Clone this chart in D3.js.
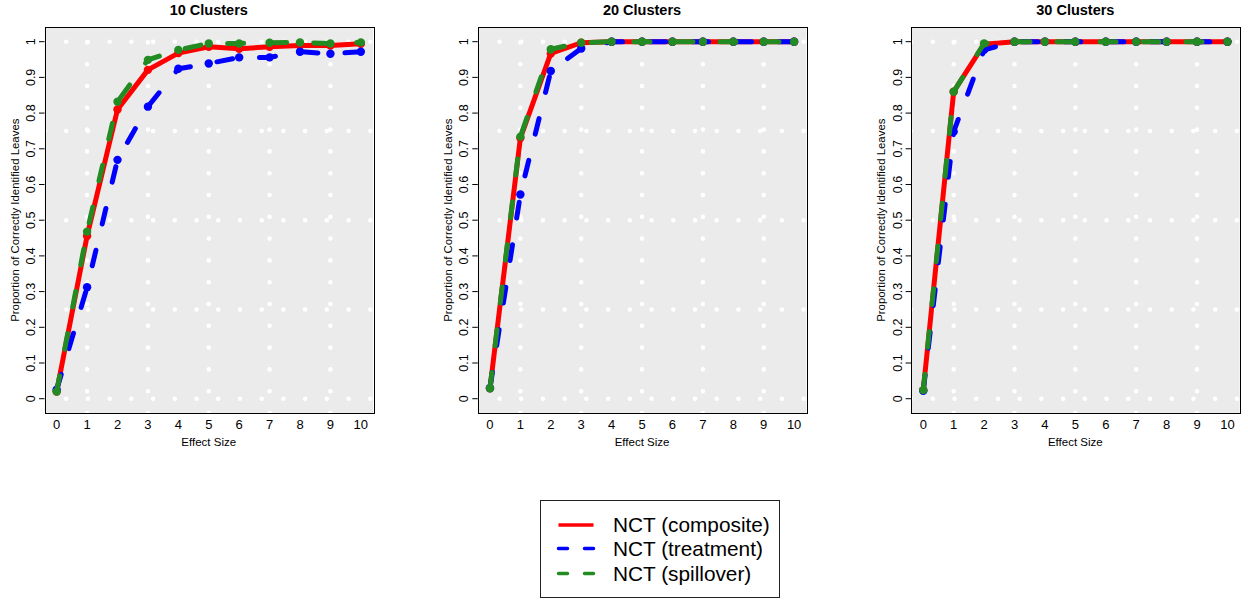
<!DOCTYPE html>
<html>
<head>
<meta charset="utf-8">
<script src="https://cdn.jsdelivr.net/npm/d3@7"></script>
<style>
  body { margin: 0; background: #fff; }
  svg { display: block; font-family: "Liberation Sans", Arial, sans-serif; }
</style>
</head>
<body>
<svg id="chart" width="1248" height="601"></svg>
<script>
// effect sizes on the x axis
const effectSizes = [0, 1, 2, 3, 4, 5, 6, 7, 8, 9, 10];
const panelTitles = ["10 Clusters", "20 Clusters", "30 Clusters"];
const seriesNames = ["NCT (composite)", "NCT (treatment)", "NCT (spillover)"];

// 10 clusters
const composite10 = [0.020, 0.456, 0.810, 0.921, 0.968, 0.986, 0.980, 0.986, 0.989, 0.989, 0.994];
const treatment10 = [0.025, 0.312, 0.669, 0.818, 0.924, 0.939, 0.956, 0.956, 0.972, 0.966, 0.972];
const spillover10 = [0.020, 0.468, 0.832, 0.949, 0.977, 0.995, 0.995, 0.997, 0.998, 0.995, 0.998];
// 20 clusters
const composite20 = [0.029, 0.730, 0.967, 0.997, 1, 1, 1, 1, 1, 1, 1];
const treatment20 = [0.030, 0.572, 0.918, 0.981, 1, 1, 1, 1, 1, 1, 1];
const spillover20 = [0.029, 0.734, 0.979, 0.997, 1, 1, 1, 1, 1, 1, 1];
// 30 clusters
const composite30 = [0.024, 0.860, 0.993, 1, 1, 1, 1, 1, 1, 1, 1];
const treatment30 = [0.022, 0.748, 0.977, 1, 1, 1, 1, 1, 1, 1, 1];
const spillover30 = [0.024, 0.860, 0.995, 1, 1, 1, 1, 1, 1, 1, 1];

const yTicks = [0, 0.1, 0.2, 0.3, 0.4, 0.5, 0.6, 0.7, 0.8, 0.9, 1];
const gridY = [0, 0.25, 0.5, 0.75, 1];
const gridX = [1, 3, 5, 7, 9];

const panels = [
  [composite10, treatment10, spillover10],
  [composite20, treatment20, spillover20],
  [composite30, treatment30, spillover30]
];

const colors = ["#ff0000", "#0000ff", "#228b22"];
const dashes = [null, "16 27", "16 27"];

const svg = d3.select("#chart");
const panelLefts = [44.5, 477.8, 911.1];
const panelW = 328.5;
const plotTop = 27.4, plotBottom = 413;

const y = d3.scaleLinear().domain([-0.04, 1.04]).range([plotBottom, plotTop]);

panels.forEach((series, p) => {
  const left = panelLefts[p];
  const x = d3.scaleLinear().domain([-0.4, 10.4]).range([left, left + panelW]);
  const g = svg.append("g");

  g.append("clipPath").attr("id", "clip" + p)
    .append("rect").attr("x", left).attr("y", plotTop).attr("width", panelW).attr("height", plotBottom - plotTop);

  g.append("rect")
    .attr("x", left).attr("y", plotTop).attr("width", panelW).attr("height", plotBottom - plotTop)
    .attr("fill", "#ebebeb");

  // white dotted grid
  const grid = g.append("g").attr("clip-path", `url(#clip${p})`)
    .attr("stroke", "#fff").attr("stroke-width", 4.6)
    .attr("stroke-linecap", "round").attr("stroke-dasharray", "0 21.72");
  grid.selectAll(".gh").data(gridY).enter().append("line")
    .attr("x1", left).attr("x2", left + panelW)
    .attr("y1", d => y(d)).attr("y2", d => y(d));
  grid.selectAll(".gv").data(gridX).enter().append("line")
    .attr("x1", d => x(d)).attr("x2", d => x(d))
    .attr("y1", plotBottom).attr("y2", plotTop)
    .attr("stroke-dasharray", "0 21.8");

  // lines and points
  const line = d3.line().x((d, i) => x(effectSizes[i])).y(d => y(d));
  series.forEach((vals, s) => {
    g.append("path")
      .attr("d", line(vals))
      .attr("fill", "none")
      .attr("stroke", colors[s])
      .attr("stroke-width", 5)
      .attr("stroke-linecap", "round")
      .attr("stroke-linejoin", "round")
      .attr("stroke-dasharray", dashes[s]);
    g.selectAll(".pt" + s).data(vals).enter().append("circle")
      .attr("cx", (d, i) => x(effectSizes[i]))
      .attr("cy", d => y(d))
      .attr("r", 4.2)
      .attr("fill", colors[s]);
  });

  // frame
  g.append("rect")
    .attr("x", Math.round(left) + 0.5).attr("y", Math.round(plotTop) + 0.5)
    .attr("width", Math.round(panelW)).attr("height", Math.round(plotBottom - plotTop))
    .attr("fill", "none").attr("stroke", "#000").attr("stroke-width", 1);

  // y axis ticks and labels
  g.selectAll(".yt").data(yTicks).enter().append("line")
    .attr("x1", left - 5.5).attr("x2", left)
    .attr("y1", d => y(d)).attr("y2", d => y(d))
    .attr("stroke", "#000");
  g.selectAll(".yl").data(yTicks).enter().append("text")
    .attr("transform", d => `translate(${left - 9.5},${y(d)}) rotate(-90)`)
    .attr("text-anchor", "middle")
    .style("font-size", "12.5px")
    .text(d => d3.format("")(d));

  // x labels
  g.selectAll(".xl").data(effectSizes).enter().append("text")
    .attr("x", d => x(d)).attr("y", 428.5)
    .attr("text-anchor", "middle")
    .style("font-size", "13px")
    .text(d => d);

  g.append("text")
    .attr("x", left + panelW / 2).attr("y", 446)
    .attr("text-anchor", "middle")
    .style("font-size", "11.5px")
    .text("Effect Size");

  g.append("text")
    .attr("transform", `translate(${left - 26},${(plotTop + plotBottom) / 2}) rotate(-90)`)
    .attr("text-anchor", "middle")
    .style("font-size", "11.4px")
    .text("Proportion of Correctly Identified Leaves");

  g.append("text")
    .attr("x", left + panelW / 2).attr("y", 15)
    .attr("text-anchor", "middle")
    .style("font-size", "14.5px")
    .style("font-weight", "bold")
    .text(panelTitles[p]);
});

// legend
const legend = svg.append("g");
legend.append("rect")
  .attr("x", 540.5).attr("y", 500.5).attr("width", 239).attr("height", 97)
  .attr("fill", "#fff").attr("stroke", "#222").attr("stroke-width", 1);
const rowY = [525, 548.5, 573.5];
seriesNames.forEach((name, i) => {
  legend.append("line")
    .attr("x1", 558.5).attr("x2", 593.5)
    .attr("y1", rowY[i]).attr("y2", rowY[i])
    .attr("stroke", colors[i]).attr("stroke-width", 3.5)
    .attr("stroke-linecap", i === 0 ? "butt" : "round")
    .attr("stroke-dasharray", i === 0 ? null : "9 17");
  legend.append("text")
    .attr("x", 613).attr("y", rowY[i] + 7)
    .style("font-size", "20.8px")
    .text(name);
});
</script>
</body>
</html>
